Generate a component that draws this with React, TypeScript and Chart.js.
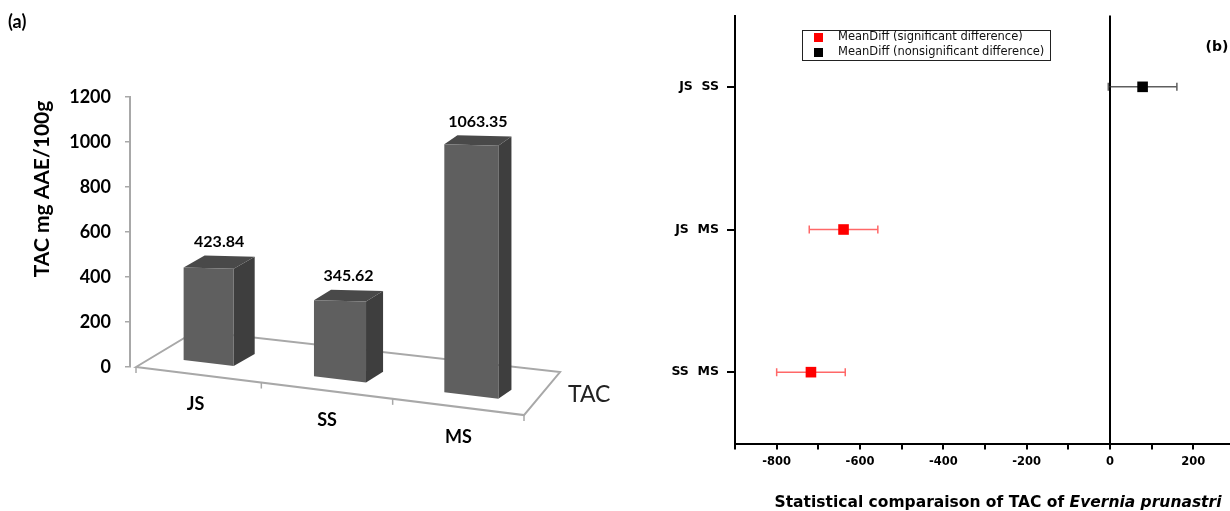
import React, { useEffect, useRef } from 'react';
import { Chart, registerables } from 'chart.js';

Chart.register(...registerables);

// ---------- Panel (a) data ----------
const samples = ['JS', 'SS', 'MS'];
const tacValues = [423.84, 345.62, 1063.35];
const tacMax = 1200;
const tacStep = 200;

// ---------- Panel (b) data ----------
const comparisons = ['JS  SS', 'JS  MS', 'SS  MS'];
const meanDiffs = [78.22, -639.51, -717.73];
const lowerCI = [-4.1, -721.8, -800.0];
const upperCI = [160.5, -557.2, -635.4];
const significant = [false, true, true];
const diffMin = -900;
const diffMax = 288;
const diffStep = 100;

const leftFont = 'Lato, "Open Sans", sans-serif';
const rightFont = '"DejaVu Sans", "Liberation Sans", sans-serif';

type Pt = [number, number];

function poly(ctx: CanvasRenderingContext2D, pts: Pt[], fill: string) {
  ctx.beginPath();
  ctx.moveTo(pts[0][0], pts[0][1]);
  for (let i = 1; i < pts.length; i++) ctx.lineTo(pts[i][0], pts[i][1]);
  ctx.closePath();
  ctx.fillStyle = fill;
  ctx.fill();
}

const FLOOR_SLOPE = 0.124;

const bar3dPlugin = {
  id: 'bar3d',
  beforeDatasetsDraw(chart: any) {
    const { ctx, chartArea, scales } = chart;
    const meta = chart.getDatasetMeta(0);
    const y0 = scales.y.getPixelForValue(0);
    const L = chartArea.left + 6;
    const R = chartArea.right;
    const frontY = (x: number) => y0 + FLOOR_SLOPE * (x - L);

    ctx.save();
    // floor outline
    ctx.strokeStyle = '#a8a8a8';
    ctx.lineWidth = 2;
    ctx.beginPath();
    ctx.moveTo(L, y0);
    ctx.lineTo(R, frontY(R));
    ctx.lineTo(R + 36, frontY(R) - 43);
    ctx.lineTo(L + 60, y0 - 36);
    ctx.closePath();
    ctx.stroke();

    // category tick marks on the front edge
    ctx.lineWidth = 1.5;
    const tickXs = [L];
    for (let k = 1; k <= samples.length; k++) tickXs.push(scales.x.getPixelForValue(k - 0.5));
    tickXs.forEach((x) => {
      ctx.beginPath();
      ctx.moveTo(x, frontY(x));
      ctx.lineTo(x, frontY(x) + 6);
      ctx.stroke();
    });

    // 3D bars
    const labelPos: Pt[] = [];
    meta.data.forEach((el: any) => {
      const h0 = el.base - el.y;
      const bx = el.x + 13;
      const t = bx - L;
      const k = 1 + 4.5e-7 * t * t;
      const h = h0 * k;
      const w = 49 + 0.015 * t;
      const dx = 21 - 0.03 * (t - 72);
      const dy = -12 + 0.011 * (t - 72);
      const yb = frontY(bx) - 13;
      const xl = bx - w / 2;
      const xr = bx + w / 2;
      const bl: Pt = [xl, yb - 0.06 * w];
      const br: Pt = [xr, yb + 0.06 * w];
      const yt = yb - h;
      const tl: Pt = [xl, yt - 0.0125 * w];
      const tr: Pt = [xr, yt + 0.0125 * w];
      poly(ctx, [tr, [tr[0] + dx, tr[1] + dy], [br[0] + dx, br[1] + dy], br], '#3e3e3e');
      poly(ctx, [tl, tr, [tr[0] + dx, tr[1] + dy], [tl[0] + dx, tl[1] + dy]], '#494949');
      poly(ctx, [tl, tr, br, bl], '#5f5f5f');
      labelPos.push([bx + dx / 2, yt + dy - 14]);
    });

    // value labels
    ctx.fillStyle = '#000';
    ctx.textAlign = 'center';
    ctx.textBaseline = 'middle';
    ctx.font = `bold 16px ${leftFont}`;
    labelPos.forEach((p, i) => ctx.fillText(tacValues[i].toFixed(2), p[0], p[1]));

    // category labels along the front edge
    ctx.font = `bold 18px ${leftFont}`;
    meta.data.forEach((el: any, i: number) => {
      ctx.fillText(samples[i], el.x, frontY(el.x) + 30);
    });

    // series name
    ctx.font = `23px ${leftFont}`;
    ctx.fillStyle = '#222';
    ctx.textAlign = 'left';
    ctx.fillText('TAC', R + 44, frontY(R) - 21);

    // axis title
    ctx.save();
    ctx.translate(42, 189);
    ctx.rotate(-Math.PI / 2);
    ctx.fillStyle = '#000';
    ctx.textAlign = 'center';
    ctx.font = `bold 21px ${leftFont}`;
    ctx.fillText('TAC mg AAE/100g', 0, 0);
    ctx.restore();

    // panel tag
    ctx.fillStyle = '#000';
    ctx.textAlign = 'left';
    ctx.font = `bold 18px ${leftFont}`;
    ctx.fillText('(a)', 8, 22);
    ctx.restore();
  },
};

const forestPlugin = {
  id: 'forest',
  beforeDatasetsDraw(chart: any) {
    const { ctx, scales } = chart;
    ctx.save();
    ctx.lineWidth = 1.5;
    comparisons.forEach((_, i) => {
      const y = scales.y.getPixelForValue(i);
      const xl = scales.x.getPixelForValue(lowerCI[i]);
      const xh = scales.x.getPixelForValue(upperCI[i]);
      ctx.strokeStyle = significant[i] ? 'rgba(255,40,40,0.7)' : 'rgba(40,40,40,0.75)';
      ctx.beginPath();
      ctx.moveTo(xl, y);
      ctx.lineTo(xh, y);
      ctx.moveTo(xl, y - 4);
      ctx.lineTo(xl, y + 4);
      ctx.moveTo(xh, y - 4);
      ctx.lineTo(xh, y + 4);
      ctx.stroke();
    });
    ctx.restore();
  },
  afterDraw(chart: any) {
    const { ctx, chartArea } = chart;
    ctx.save();
    // legend box
    const lx = chartArea.left + 67;
    const ly = chartArea.top + 14.5;
    ctx.fillStyle = '#fff';
    ctx.fillRect(lx, ly, 248, 30);
    ctx.strokeStyle = '#222';
    ctx.lineWidth = 1;
    ctx.strokeRect(lx + 0.5, ly + 0.5, 248, 30);
    chart.data.datasets.forEach((ds: any, i: number) => {
      const cy = ly + 7.5 + i * 15;
      ctx.fillStyle = ds.backgroundColor;
      ctx.fillRect(lx + 12, cy - 4.5, 9, 9);
      ctx.fillStyle = '#111';
      ctx.font = `11.5px ${rightFont}`;
      ctx.textAlign = 'left';
      ctx.textBaseline = 'middle';
      ctx.fillText(ds.label, lx + 36, cy);
    });

    // panel tag
    ctx.fillStyle = '#000';
    ctx.font = `bold 14px ${rightFont}`;
    ctx.textAlign = 'center';
    ctx.fillText('(b)', chartArea.right - 13, 47);

    // x title with italic species name
    const part1 = 'Statistical comparaison of TAC of ';
    const part2 = 'Evernia prunastri';
    const fs = 15.5;
    ctx.font = `bold ${fs}px ${rightFont}`;
    const w1 = ctx.measureText(part1).width;
    ctx.font = `italic bold ${fs}px ${rightFont}`;
    const w2 = ctx.measureText(part2).width;
    const cx = chartArea.left + 263;
    const x0 = cx - (w1 + w2) / 2;
    const ty = 503;
    ctx.textAlign = 'left';
    ctx.textBaseline = 'middle';
    ctx.font = `bold ${fs}px ${rightFont}`;
    ctx.fillText(part1, x0, ty);
    ctx.font = `italic bold ${fs}px ${rightFont}`;
    ctx.fillText(part2, x0 + w1, ty);
    ctx.restore();
  },
};

export default function App() {
  const leftRef = useRef<HTMLCanvasElement>(null);
  const rightRef = useRef<HTMLCanvasElement>(null);

  useEffect(() => {
    const left = new Chart(leftRef.current as HTMLCanvasElement, {
      type: 'bar',
      data: {
        labels: samples,
        datasets: [
          {
            label: 'TAC',
            data: tacValues,
            backgroundColor: 'rgba(0,0,0,0)',
            borderWidth: 0,
          },
        ],
      },
      options: {
        responsive: false,
        animation: false,
        devicePixelRatio: 1,
        layout: { autoPadding: false, padding: { left: 0, right: 96, top: 97, bottom: 144 } },
        plugins: { legend: { display: false }, tooltip: { enabled: false } },
        scales: {
          x: { display: false },
          y: {
            min: 0,
            max: tacMax,
            afterFit: (scale: any) => {
              scale.width = 130;
            },
            ticks: {
              stepSize: tacStep,
              color: '#000',
              padding: 14,
              font: { family: leftFont, size: 18, weight: 'bold' },
              callback: (v: any) => String(v),
            },
            grid: {
              drawOnChartArea: false,
              drawTicks: true,
              tickLength: 5,
              tickColor: '#a8a8a8',
              lineWidth: 1.5,
            },
            border: { display: true, color: '#a8a8a8', width: 2 },
          },
        },
      },
      plugins: [bar3dPlugin],
    } as any);

    const sigPoints = comparisons
      .map((c, i) => (significant[i] ? { x: meanDiffs[i], y: c } : null))
      .filter((p) => p !== null);
    const nonSigPoints = comparisons
      .map((c, i) => (!significant[i] ? { x: meanDiffs[i], y: c } : null))
      .filter((p) => p !== null);

    const right = new Chart(rightRef.current as HTMLCanvasElement, {
      type: 'scatter',
      data: {
        datasets: [
          {
            label: 'MeanDiff (significant difference)',
            data: sigPoints,
            backgroundColor: '#ff0000',
            borderColor: '#ff0000',
            pointStyle: 'rect',
            pointRadius: 7.5,
            borderWidth: 0,
          },
          {
            label: 'MeanDiff (nonsignificant difference)',
            data: nonSigPoints,
            backgroundColor: '#000000',
            borderColor: '#000000',
            pointStyle: 'rect',
            pointRadius: 7.5,
            borderWidth: 0,
          },
        ],
      },
      options: {
        responsive: false,
        animation: false,
        devicePixelRatio: 1,
        layout: { autoPadding: false, padding: { left: 0, right: 0, top: 15, bottom: 0 } },
        plugins: { legend: { display: false }, tooltip: { enabled: false } },
        scales: {
          x: {
            type: 'linear',
            min: diffMin,
            max: diffMax,
            afterFit: (scale: any) => {
              scale.height = 67.5;
            },
            ticks: {
              stepSize: diffStep,
              includeBounds: false,
              autoSkip: false,
              maxRotation: 0,
              color: '#000',
              padding: 6,
              font: { family: rightFont, size: 11.5, weight: 'bold' },
              callback: (v: any) => (Number(v) % 200 === 0 ? String(v) : ''),
            },
            grid: {
              drawOnChartArea: true,
              drawTicks: true,
              tickLength: 6,
              lineWidth: 2,
              tickColor: '#000',
              color: (c: any) => (c.tick && c.tick.value === 0 ? '#000' : 'rgba(0,0,0,0)'),
            },
            border: { display: true, color: '#000', width: 2 },
          },
          y: {
            type: 'category',
            labels: comparisons,
            offset: true,
            afterFit: (scale: any) => {
              scale.width = 115;
            },
            ticks: {
              color: '#000',
              padding: 8,
              font: { family: rightFont, size: 12.5, weight: 'bold' },
            },
            grid: {
              drawOnChartArea: false,
              drawTicks: true,
              tickLength: 8,
              tickColor: '#000',
              lineWidth: 2,
              offset: false,
            },
            border: { display: true, color: '#000', width: 2 },
          },
        },
      },
      plugins: [forestPlugin],
    } as any);

    return () => {
      left.destroy();
      right.destroy();
    };
  }, []);

  return (
    <div style={{ position: 'absolute', left: 0, top: 0, width: 1230, height: 511, background: '#fff', overflow: 'hidden' }}>
      <canvas
        ref={leftRef}
        width={620}
        height={511}
        style={{ position: 'absolute', left: 0, top: 0, width: 620, height: 511 }}
      />
      <canvas
        ref={rightRef}
        width={610}
        height={511}
        style={{ position: 'absolute', left: 620, top: 0, width: 610, height: 511 }}
      />
    </div>
  );
}
